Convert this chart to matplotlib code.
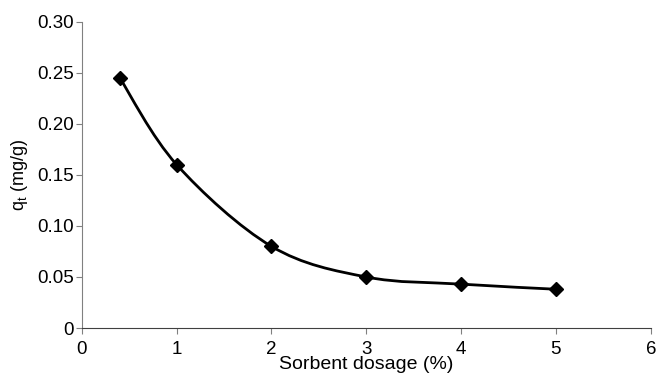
import numpy as np
import matplotlib
matplotlib.use("Agg")
import matplotlib.pyplot as plt
from matplotlib.path import Path
from matplotlib.patches import PathPatch
from matplotlib.ticker import FuncFormatter

plt.rcParams["font.family"] = ["Liberation Sans", "DejaVu Sans"]

# data
dosage = [0.4, 1, 2, 3, 4, 5]
qt = [0.245, 0.160, 0.080, 0.050, 0.043, 0.038]


def smooth_path(xs, ys):
    # Excel-like smoothed line: cubic Bezier with Catmull-Rom style handles
    pts = np.column_stack([xs, ys])
    n = len(pts)
    verts = [pts[0]]
    codes = [Path.MOVETO]
    for i in range(n - 1):
        p0 = pts[i - 1] if i > 0 else pts[i]
        p1 = pts[i]
        p2 = pts[i + 1]
        p3 = pts[i + 2] if i + 2 < n else pts[i + 1]
        c1 = p1 + (p2 - p0) / 6.0
        c2 = p2 - (p3 - p1) / 6.0
        verts += [c1, c2, p2]
        codes += [Path.CURVE4] * 3
    return Path(verts, codes)


fig = plt.figure(figsize=(6.6, 3.81), dpi=100)
ax = fig.add_axes([0.124, 0.139, 0.862, 0.804])

ax.add_patch(PathPatch(smooth_path(dosage, qt), facecolor="none",
                       edgecolor="black", linewidth=2.0, zorder=2))
ax.plot(dosage, qt, linestyle="none", marker="D", markersize=7,
        color="black", zorder=3)

ax.set_xlim(0, 6)
ax.set_ylim(0, 0.30)
ax.set_xticks(range(0, 7))
ax.set_yticks(np.arange(0, 0.31, 0.05))
ax.yaxis.set_major_formatter(FuncFormatter(lambda v, p: "0" if abs(v) < 1e-9 else f"{v:.2f}"))

for s in ["top", "right"]:
    ax.spines[s].set_visible(False)
ax.spines["left"].set_color("#808080")
ax.spines["bottom"].set_color("#404040")
ax.tick_params(axis="y", direction="out", length=4, color="#808080", labelsize=13.5, pad=2)
ax.tick_params(axis="x", direction="out", length=4, color="#808080", labelsize=13.5, pad=5)

ax.set_xlabel("Sorbent dosage (%)", fontsize=14, labelpad=-1)
ax.set_ylabel("q$_\\mathregular{t}$ (mg/g)", fontsize=13, labelpad=5)

fig.savefig("out.png", dpi=100)
